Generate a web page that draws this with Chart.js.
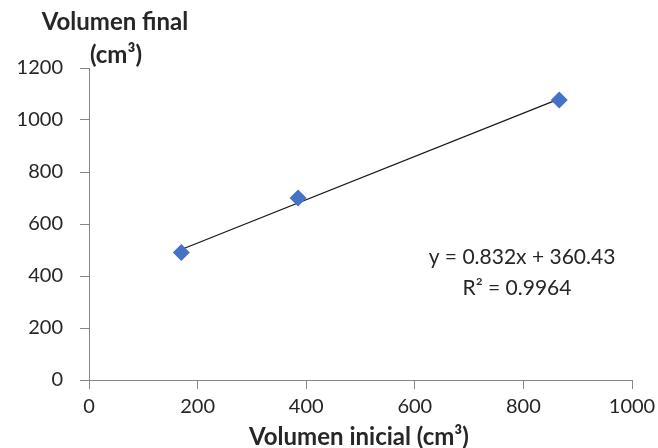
<!DOCTYPE html>
<html>
<head>
<meta charset="utf-8">
<script src="https://cdn.jsdelivr.net/npm/chart.js@4.4.1/dist/chart.umd.min.js"></script>
<style>
html,body{margin:0;padding:0;background:#fff;}
canvas{display:block;}
</style>
</head>
<body>
<canvas id="c" width="658" height="448"></canvas>
<script>
const volInicial = [170, 385, 866];
const volFinal = [490, 700, 1077];
const trendX = [170, 866];
const trendY = [502, 1081];
const xTicks = [0, 200, 400, 600, 800, 1000];
const yTicks = [0, 200, 400, 600, 800, 1000, 1200];
const yTitle = ['Volumen final', '(cm³)'];
const xTitle = 'Volumen inicial (cm³)';
const eqLines = ['y = 0.832x + 360.43', 'R² = 0.9964'];

const FONT = 'Lato, "Open Sans", sans-serif';
const TXT = '#262626';
const AX = '#868686';

const textPlugin = {
  id: 'texts',
  afterDraw(chart) {
    const ctx = chart.ctx;
    ctx.save();
    ctx.fillStyle = TXT;
    ctx.textAlign = 'center';
    ctx.textBaseline = 'middle';
    ctx.font = 'bold 24px ' + FONT;
    ctx.fillText(yTitle[0], 115, 22);
    ctx.fillText(yTitle[1], 116, 55);
    ctx.fillText(xTitle, 359, 437);
    ctx.font = '21px ' + FONT;
    ctx.fillText(eqLines[0], 522, 257);
    ctx.fillText(eqLines[1], 517, 288);
    ctx.restore();
  }
};

new Chart(document.getElementById('c'), {
  type: 'scatter',
  data: {
    datasets: [
      {
        label: 'Volumen',
        data: volInicial.map((x, i) => ({x: x, y: volFinal[i]})),
        pointStyle: 'rectRot',
        pointRadius: 8.5,
        pointHoverRadius: 8.5,
        backgroundColor: '#4472C4',
        borderColor: '#4472C4',
        borderWidth: 0,
        order: 1
      },
      {
        label: 'Tendencia',
        type: 'line',
        data: trendX.map((x, i) => ({x: x, y: trendY[i]})),
        borderColor: '#1a1a1a',
        borderWidth: 1.3,
        pointRadius: 0,
        fill: false,
        order: 2
      }
    ]
  },
  options: {
    responsive: false,
    animation: false,
    devicePixelRatio: 1,
    layout: {padding: {left: 0, right: 26, top: 68, bottom: 0}},
    plugins: {legend: {display: false}, tooltip: {enabled: false}},
    scales: {
      x: {
        type: 'linear',
        min: 0, max: 1000,
        afterBuildTicks(s) { s.ticks = xTicks.map(v => ({value: v})); },
        afterFit(s) { s.height = 68; s.paddingRight = 0; s.paddingLeft = 0; },
        grid: {drawOnChartArea: false, drawTicks: true, tickLength: 9, color: AX},
        border: {color: AX, width: 1},
        ticks: {color: TXT, font: {family: FONT, size: 20}, padding: 6, maxRotation: 0,
                callback: v => String(v)}
      },
      y: {
        type: 'linear',
        min: 0, max: 1200,
        afterBuildTicks(s) { s.ticks = yTicks.map(v => ({value: v})); },
        afterFit(s) { s.width = 89; s.paddingTop = 0; s.paddingBottom = 0; },
        grid: {drawOnChartArea: false, drawTicks: true, tickLength: 9, color: AX},
        border: {color: AX, width: 1},
        ticks: {color: TXT, font: {family: FONT, size: 20}, padding: 17,
                callback: v => String(v)}
      }
    }
  },
  plugins: [textPlugin]
});
</script>
</body>
</html>
